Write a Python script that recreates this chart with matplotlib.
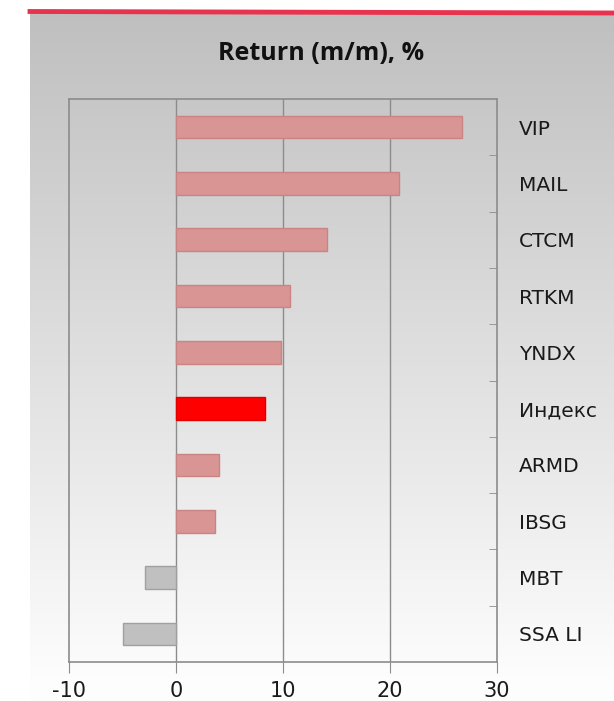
import numpy as np
import matplotlib.pyplot as plt
from matplotlib.ticker import FixedLocator, NullFormatter

names = ["VIP", "MAIL", "CTCM", "RTKM", "YNDX", "Индекс", "ARMD", "IBSG", "MBT", "SSA LI"]
returns = [26.7, 20.8, 14.1, 10.7, 9.8, 8.3, 4.0, 3.6, -2.9, -5.0]
x_ticks = [-10, 0, 10, 20, 30]

W, H = 614, 701
fig = plt.figure(figsize=(W / 100, H / 100), dpi=100)
fig.patch.set_facecolor("white")

# gradient background panel
bg = fig.add_axes([30 / W, 0, 1 - 30 / W, 1 - 12 / H])
grad = np.linspace(0.75, 1.0, 256).reshape(-1, 1)
grad = np.clip(grad, 0, 0.995)
bg.imshow(np.dstack([grad] * 3), aspect="auto", extent=[0, 1, 0, 1], origin="upper")
bg.set_axis_off()

# red stripe on top
fig.add_artist(plt.Line2D([30 / W, 1], [1 - 11.5 / H, 1 - 13 / H], color="#e8334f", lw=3.5))

fig.text(321 / W, 1 - 54 / H, "Return (m/m), %", ha="center", va="center",
         fontsize=18, fontweight="bold", family=["Open Sans", "DejaVu Sans"], color="#111111")

ax = fig.add_axes([69 / W, 1 - 662 / H, (497 - 69) / W, (662 - 99) / H])
ax.patch.set_alpha(0)

colors = []
edges = []
for n, v in zip(names, returns):
    if n == "Индекс":
        colors.append("#ff0000"); edges.append("#e00000")
    elif v < 0:
        colors.append("#c0c0c0"); edges.append("#a0a0a0")
    else:
        colors.append("#d99594"); edges.append("#c98584")

y = np.arange(len(names))
ax.barh(y, returns, height=0.4, color=colors, edgecolor=edges, linewidth=1, zorder=3)
ax.set_ylim(len(names) - 0.5, -0.5)
ax.set_xlim(-10, 30)
ax.set_xticks(x_ticks)
ax.set_xticklabels([str(t) for t in x_ticks])
for t in x_ticks[1:-1]:
    ax.axvline(t, color="#8c8c8c", lw=1, zorder=1)

ax.yaxis.tick_right()
ax.set_yticks(y)
ax.set_yticklabels(names)
ax.yaxis.set_minor_locator(FixedLocator(np.arange(0.5, len(names) - 0.5, 1)))
ax.yaxis.set_minor_formatter(NullFormatter())
ax.tick_params(axis="y", which="major", length=0, pad=16, labelsize=14.5, labelcolor="#1a1a1a")
ax.tick_params(axis="y", which="minor", direction="in", length=6, color="#8c8c8c", right=True, left=False)
ax.tick_params(axis="x", direction="out", length=8, color="#8c8c8c", labelsize=15, pad=6,
               labelcolor="#1a1a1a")

for s in ax.spines.values():
    s.set_color("#8c8c8c")
    s.set_linewidth(1.2)

fig.savefig("out.png", dpi=100)
